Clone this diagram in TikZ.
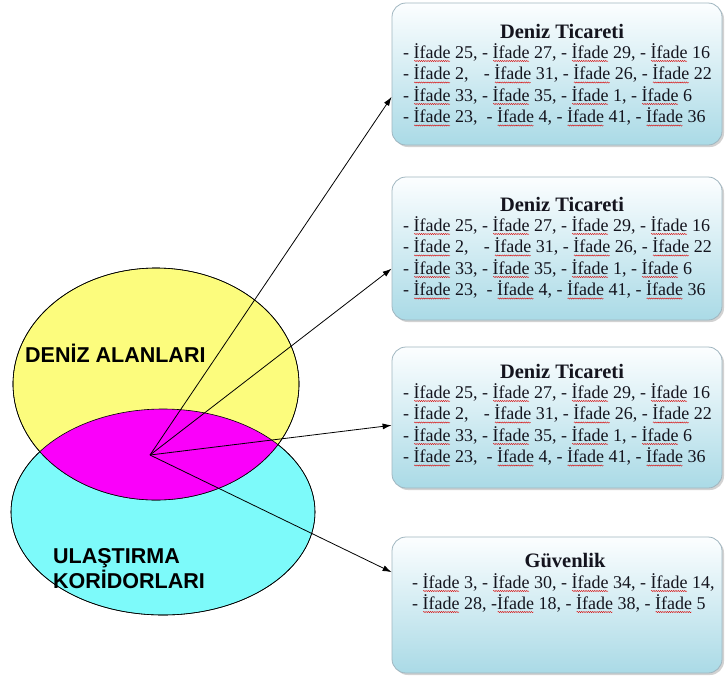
\documentclass[tikz,border=0pt]{standalone}
\usepackage{fontspec}
\setmainfont{Liberation Serif}
\newfontfamily\arialfont{Liberation Sans}
\usetikzlibrary{arrows.meta,calc,shadows,decorations.pathmorphing}
\definecolor{yel}{RGB}{252,252,125}
\definecolor{cya}{RGB}{125,250,250}
\definecolor{mag}{RGB}{250,0,250}
\definecolor{boxtop}{RGB}{252,254,255}
\definecolor{boxbot}{RGB}{170,218,230}
\definecolor{boxline}{RGB}{160,182,192}
\definecolor{txt}{RGB}{20,20,30}
\newsavebox\sqbox
\newcommand\sq[1]{\sbox\sqbox{#1}\tikz[baseline=0pt]{\useasboundingbox (0pt,0pt) rectangle (\wd\sqbox,\ht\sqbox);
  \draw[red!85!black, line width=0.4pt, decorate, decoration={snake, amplitude=0.6pt, segment length=2.2pt}] (0.5pt,-3pt) -- (\wd\sqbox-0.5pt,-3pt);}\llap{\usebox\sqbox}}
\begin{document}
\begin{tikzpicture}[x=1pt,y=-1pt,
  infobox/.style={draw=boxline, line width=0.8pt, rounded corners=14pt,
    top color=boxtop, bottom color=boxbot, inner sep=0pt,
    minimum width=330pt,
    drop shadow={opacity=0.35, shadow xshift=2pt, shadow yshift=-2pt}},
  ttl/.style={font=\fontsize{20.5}{22}\selectfont\bfseries, text=txt, inner sep=0pt, anchor=base},
  bl/.style={font=\fontsize{18}{21}\selectfont, text=txt, inner sep=0pt, anchor=base west},
  lbl/.style={font=\arialfont\fontsize{21.5}{25}\selectfont\bfseries, inner sep=0pt, anchor=base west},
  conn/.style={line width=0.8pt, -{Latex[length=9pt,width=6pt]}}]
\useasboundingbox (0,0) rectangle (725,675);
\fill[white] (0,0) rectangle (725,675);
% ellipses
\draw[fill=cya, line width=0.6pt] (163,512) ellipse [x radius=152, y radius=103];
\draw[fill=yel, line width=0.6pt] (156,384) ellipse [x radius=143, y radius=116];
\begin{scope}
  \clip (163,512) ellipse [x radius=152, y radius=103];
  \fill[mag] (156,384) ellipse [x radius=143, y radius=116];
\end{scope}
\draw[line width=0.6pt] (163,512) ellipse [x radius=152, y radius=103];
\draw[line width=0.6pt] (156,384) ellipse [x radius=143, y radius=116];
\node[lbl] (deniz) at (25,362) {DEN\.{I}Z ALANLARI};
\node[lbl] (ulas) at (53,563) {ULAŞTIRMA};
\node[lbl] (kor) at (53,588) {KOR\.{I}DORLARI};
% boxes
\node[infobox, minimum height=142pt] (box1) at (557,74) {};
\node[infobox, minimum height=143pt] (box2) at (557,248.5) {};
\node[infobox, minimum height=141pt] (box3) at (557,417.5) {};
\node[infobox, minimum height=136pt] (box4) at (557,605) {};
% box texts
\foreach \b/\dy in {1/0,2/173,3/340}{
  \node[ttl] (t\b) at (562,38+\dy) {Deniz Ticareti};
  \node[bl] (b\b a) at (403,58+\dy) {- \sq{İfade} 25, - \sq{İfade} 27, - \sq{İfade} 29, - \sq{İfade} 16};
  \node[bl] (b\b b) at (403,79.5+\dy) {- \sq{İfade} 2,\hspace{0.6em} - \sq{İfade} 31, - \sq{İfade} 26, - \sq{İfade} 22};
  \node[bl] (b\b c) at (403,101+\dy) {- \sq{İfade} 33, - \sq{İfade} 35, - \sq{İfade} 1, - \sq{İfade} 6};
  \node[bl] (b\b d) at (403,122.5+\dy) {- \sq{İfade} 23,\ \ - \sq{İfade} 4, - \sq{İfade} 41, - \sq{İfade} 36};
}
\node[ttl] (t4) at (565,567) {Güvenlik};
\node[bl] (b4a) at (412,588) {- \sq{İfade} 3, - \sq{İfade} 30, - \sq{İfade} 34, - \sq{İfade} 14,};
\node[bl] (b4b) at (412,609) {- \sq{İfade} 28, -\sq{İfade} 18, - \sq{İfade} 38, - \sq{İfade} 5};
% connectors
\coordinate (hub) at (150,455);
\draw[conn] (hub) -- ($(box1.north west)!0.66!(box1.south west)$);
\draw[conn] (hub) -- ($(box2.north west)!0.64!(box2.south west)$);
\draw[conn] (hub) -- ($(box3.north west)!0.555!(box3.south west)$);
\draw[conn] (hub) -- ($(box4.north west)!0.26!(box4.south west)$);
\end{tikzpicture}
\end{document}
